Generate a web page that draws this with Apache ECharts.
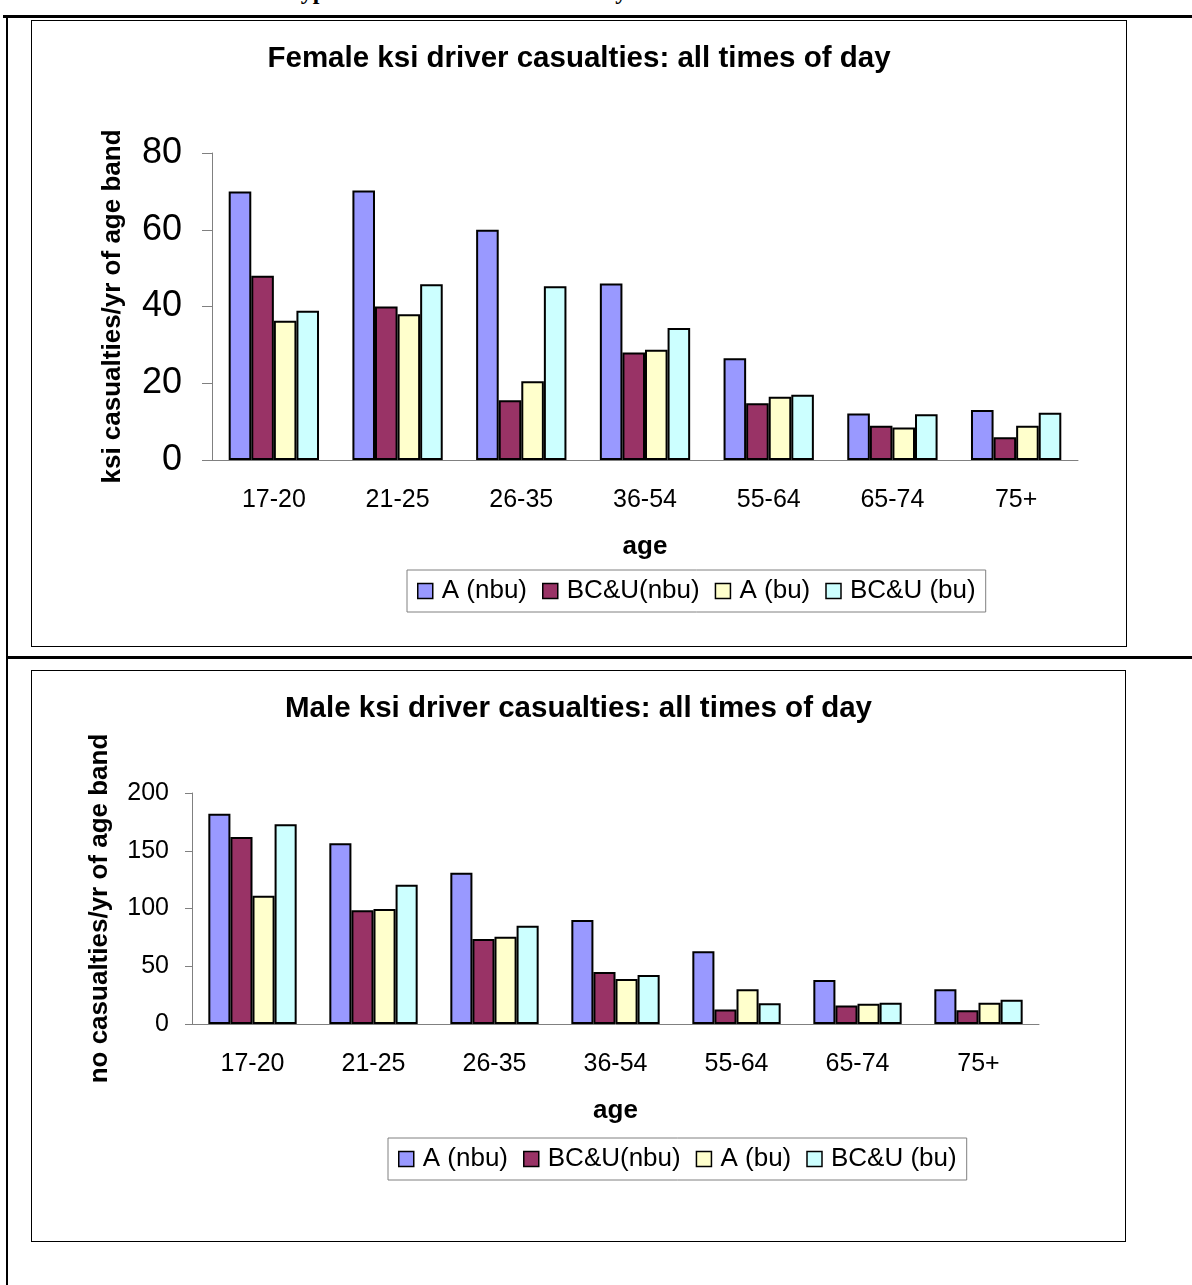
<!DOCTYPE html>
<html>
<head>
    <title>ksi driver casualties by age band</title>
    <meta charset="utf-8">
    <script src="https://cdn.jsdelivr.net/npm/echarts@6/dist/echarts.min.js"></script>
    <style>
        body { margin: 0; background: #fff; width: 1192px; height: 1285px; position: relative; overflow: hidden; }
        .rule { position: absolute; background: #000; }
        .box { position: absolute; border: 1px solid #000; box-sizing: border-box; }
        #heading { position: absolute; left: 0; top: 0; width: 1192px; height: 14px; overflow: hidden;
                   font: bold 24px "Liberation Serif", "Times New Roman", serif; }
        #heading span { position: absolute; top: -22px; }
    </style>
</head>
<body>
    <!-- page heading, cut off at the top of the page -->
    <div id="heading"><span style="left:232px">Road types</span><span style="left:602px">by</span></div>

    <!-- table rules round the two charts -->
    <div class="rule" style="left:3px; top:15px; width:1189px; height:3px;"></div>
    <div class="rule" style="left:6px; top:15px; width:2px; height:1270px;"></div>
    <div class="rule" style="left:6px; top:656px; width:1186px; height:3px;"></div>

    <div id="female" class="box" style="left:31px; top:20px; width:1096px; height:627px;"></div>
    <div id="male" class="box" style="left:31px; top:670px; width:1095px; height:572px;"></div>

    <script type="text/javascript">
        // age bands on the x axis
        var ageBands = ['17-20', '21-25', '26-35', '36-54', '55-64', '65-74', '75+'];
        var seriesNames = ['A (nbu)', 'BC&U(nbu)', 'A (bu)', 'BC&U (bu)'];
        var seriesColors = ['#9999FF', '#993366', '#FFFFCC', '#CCFFFF'];

        // female ksi casualties/yr of age band
        var femaleANbu = [70, 70.2, 60, 46, 26.5, 12.1, 13];
        var femaleBcuNbu = [48, 40, 15.6, 28, 14.8, 8.9, 5.9];
        var femaleABu = [36.3, 38, 20.5, 28.7, 16.5, 8.5, 8.9];
        var femaleBcuBu = [38.9, 45.8, 45.3, 34.4, 17, 11.9, 12.3];

        // male ksi casualties/yr of age band
        var maleANbu = [182, 156.5, 131, 90, 63, 38, 30];
        var maleBcuNbu = [162, 98.5, 73.5, 45, 12.5, 16, 12];
        var maleABu = [111, 99.5, 75.5, 39, 30, 17.5, 18.5];
        var maleBcuBu = [173, 120.5, 85, 42.5, 18, 18.5, 21];

        var font = '"Liberation Sans", Arial, sans-serif';

        function buildOption(cfg) {
            var series = cfg.data.map(function (vals, i) {
                return {
                    name: seriesNames[i],
                    type: 'bar',
                    data: vals,
                    barGap: 0,
                    barCategoryGap: '27%',
                    itemStyle: { color: seriesColors[i], borderColor: '#000', borderWidth: 2 }
                };
            });
            return {
                animation: false,
                textStyle: { fontFamily: font },
                title: {
                    text: cfg.title,
                    left: 'center',
                    top: cfg.titleTop,
                    textStyle: { fontFamily: font, fontSize: 29.5, fontWeight: 'bold', color: '#000' }
                },
                legend: {
                    data: seriesNames,
                    left: cfg.legendLeft,
                    top: cfg.legendTop,
                    orient: 'horizontal',
                    icon: 'rect',
                    itemWidth: 15,
                    itemHeight: 15,
                    itemGap: 15,
                    padding: [8, 10],
                    borderColor: '#808080',
                    borderWidth: 1,
                    itemStyle: { borderColor: '#000', borderWidth: 1.5 },
                    textStyle: { fontFamily: font, fontSize: 26, color: '#000', padding: [0, 0, 0, 4] }
                },
                grid: cfg.grid,
                xAxis: {
                    type: 'category',
                    data: ageBands,
                    name: 'age',
                    nameLocation: 'middle',
                    nameGap: 74,
                    nameTextStyle: { fontFamily: font, fontSize: 26, fontWeight: 'bold', color: '#000' },
                    axisLine: { lineStyle: { color: '#808080', width: 1 } },
                    axisTick: { length: 8, lineStyle: { color: '#808080' } },
                    axisLabel: { margin: 28, fontFamily: font, fontSize: 25, color: '#000' },
                    splitLine: { show: false }
                },
                yAxis: {
                    type: 'value',
                    min: 0,
                    max: cfg.yMax,
                    interval: cfg.yInterval,
                    name: cfg.yName,
                    nameLocation: 'middle',
                    nameGap: cfg.yNameGap,
                    nameTextStyle: { fontFamily: font, fontSize: 26, fontWeight: 'bold', color: '#000' },
                    axisLine: { show: true, lineStyle: { color: '#808080', width: 1 } },
                    axisTick: { show: true, length: cfg.yTickLen, lineStyle: { color: '#808080' } },
                    axisLabel: { margin: cfg.yLabelMargin, fontFamily: font, fontSize: cfg.yLabelSize, color: '#000' },
                    splitLine: { show: false }
                },
                series: series
            };
        }

        var femaleChart = echarts.init(document.getElementById('female'));
        femaleChart.setOption(buildOption({
            title: 'Female ksi driver casualties: all times of day',
            titleTop: 18,
            data: [femaleANbu, femaleBcuNbu, femaleABu, femaleBcuBu],
            grid: { left: 180, right: 48, top: 132, bottom: 186 },
            yMax: 80,
            yInterval: 20,
            yName: 'ksi casualties/yr of age band',
            yNameGap: 86,
            yTickLen: 10,
            yLabelMargin: 30,
            yLabelSize: 36,
            legendLeft: 375,
            legendTop: 549
        }));

        var maleChart = echarts.init(document.getElementById('male'));
        maleChart.setOption(buildOption({
            title: 'Male ksi driver casualties: all times of day',
            titleTop: 18,
            data: [maleANbu, maleBcuNbu, maleABu, maleBcuBu],
            grid: { left: 160, right: 86, top: 122, bottom: 217 },
            yMax: 200,
            yInterval: 50,
            yName: 'no casualties/yr of age band',
            yNameGap: 79,
            yTickLen: 7,
            yLabelMargin: 23,
            yLabelSize: 25,
            legendLeft: 356,
            legendTop: 467
        }));
    </script>
</body>
</html>
